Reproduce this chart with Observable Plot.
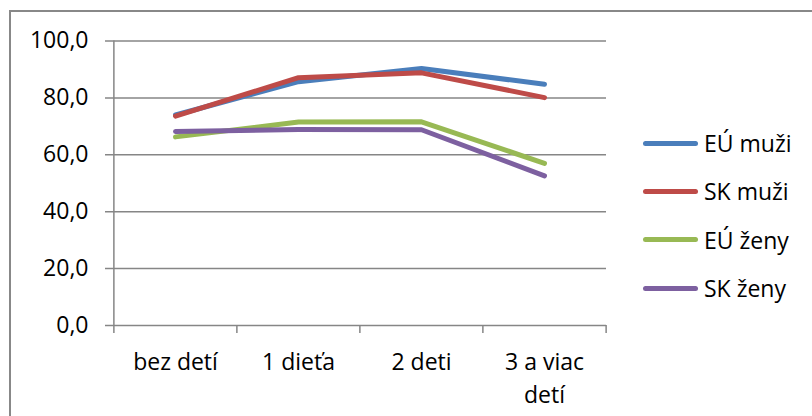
<!DOCTYPE html>
<html>
<head>
<meta charset="utf-8">
<script src="https://cdn.jsdelivr.net/npm/d3@7"></script>
<script src="https://cdn.jsdelivr.net/npm/@observablehq/plot@0.6"></script>
<style>
  html, body { margin: 0; padding: 0; background: #fff; }
  #wrap { position: relative; width: 812px; height: 416px; overflow: hidden; font-family: "Open Sans", sans-serif; }
  #frame { position: absolute; left: 9px; top: 10px; width: 1000px; height: 1000px; border: 2px solid #888; box-sizing: border-box; }
  #chart { position: absolute; left: 0; top: 0; }
  #legend { position: absolute; left: 643px; top: 119px; }
  .row { display: flex; align-items: center; height: 48.3px; font-size: 23px; color: #000; }
  .swatch { width: 55px; height: 5px; border-radius: 3px; margin-right: 6px; }
</style>
</head>
<body>
<div id="wrap">
  <div id="frame"></div>
  <div id="chart"></div>
  <div id="legend"></div>
</div>
<script>
// Categories (number of children) and the four series
const categories = ["bez detí", "1 dieťa", "2 deti", "3 a viac\ndetí"];
const seriesNames = ["EÚ muži", "SK muži", "EÚ ženy", "SK ženy"];
const seriesColors = ["#4A7EBB", "#BE4B48", "#98B954", "#7D60A0"];
const euMuzi = [74.0, 85.7, 90.3, 84.8];
const skMuzi = [73.6, 87.1, 88.8, 80.1];
const euZeny = [66.3, 71.5, 71.6, 57.0];
const skZeny = [68.2, 68.9, 68.8, 52.6];
const yTicks = [0, 20, 40, 60, 80, 100];

const seriesValues = [euMuzi, skMuzi, euZeny, skZeny];
const rows = [];
seriesNames.forEach((name, s) => {
  categories.forEach((cat, i) => rows.push({ series: name, cat, value: seriesValues[s][i] }));
});

const width = 812, height = 416;
const marginLeft = 113, marginRight = 206, marginTop = 40.5, marginBottom = 91;
const step = (width - marginLeft - marginRight) / categories.length;
const gray = "#868686";

const chart = Plot.plot({
  width, height, marginLeft, marginRight, marginTop, marginBottom,
  style: { fontFamily: "Open Sans", fontSize: "23px", color: "#000", background: "transparent" },
  x: { type: "point", domain: categories, padding: 0.5, axis: null },
  y: {
    domain: [0, 100], ticks: yTicks, tickSize: 0, tickPadding: 25, label: null,
    tickFormat: d => d.toFixed(1).replace(".", ",")
  },
  color: { domain: seriesNames, range: seriesColors },
  marks: [
    // horizontal gridlines with short stubs left of the axis
    Plot.ruleY(yTicks, { stroke: gray, strokeWidth: 1.5, insetLeft: -8 }),
    // vertical axis line
    Plot.ruleX(categories.slice(0, 1), { dx: -step / 2, y1: 100, y2: 0, insetBottom: -8, stroke: gray, strokeWidth: 1.5 }),
    // category boundary ticks
    Plot.ruleX(categories.slice(1), { dx: -step / 2, y1: 0, y2: 0, insetBottom: -8, stroke: gray, strokeWidth: 1.5 }),
    Plot.ruleX(categories.slice(-1), { dx: step / 2, y1: 0, y2: 0, insetBottom: -8, stroke: gray, strokeWidth: 1.5 }),
    // category labels
    Plot.text(categories, { x: d => d, frameAnchor: "bottom", dy: 21, lineAnchor: "top", lineHeight: 1.43, fill: "#000", fontSize: 23 }),
    // series lines
    Plot.line(rows, {
      x: "cat", y: "value", z: "series", stroke: "series",
      strokeWidth: 5, strokeLinecap: "round", strokeLinejoin: "round"
    })
  ]
});
document.getElementById("chart").appendChild(chart);

// legend to the right of the plot
const legend = d3.select("#legend");
seriesNames.forEach((name, i) => {
  const row = legend.append("div").attr("class", "row");
  row.append("div").attr("class", "swatch").style("background", seriesColors[i]);
  row.append("span").text(name);
});
</script>
</body>
</html>
